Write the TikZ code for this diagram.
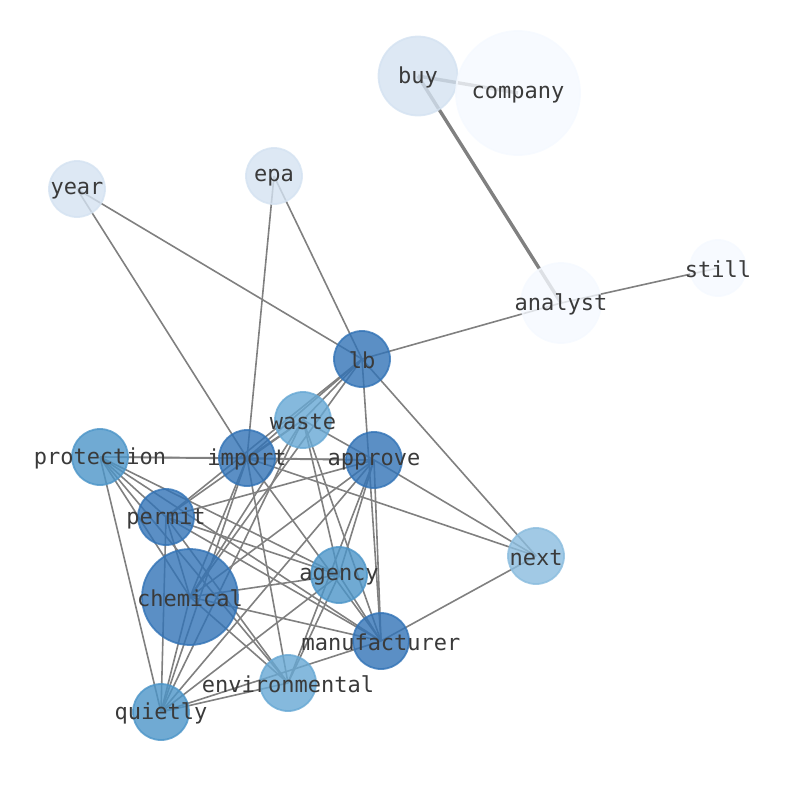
\documentclass[tikz,border=0pt]{standalone}
\usepackage{fontspec}
\newfontfamily\labfont{DejaVu Sans Mono}
\pgfdeclarelayer{bg}
\pgfsetlayers{bg,main}
\definecolor{cA}{RGB}{50,115,182}
\definecolor{cB}{RGB}{76,149,200}
\definecolor{cC}{RGB}{103,168,212}
\definecolor{cD}{RGB}{138,188,222}
\definecolor{cE}{RGB}{212,226,241}
\definecolor{cF}{RGB}{245,249,255}
\definecolor{edgegray}{RGB}{128,128,128}
\definecolor{labgray}{RGB}{58,58,58}
\tikzset{
  vtx/.style={circle, inner sep=0pt, line width=1.8pt, fill opacity=0.8, draw opacity=0.8},
  small/.style={vtx, minimum size=56pt},
  lab/.style={font=\labfont\fontsize{22}{22}\selectfont, text=labgray, inner sep=0pt, yshift=-1.5pt},
  lnk/.style={draw=edgegray, line width=1.6pt},
  thicklnk/.style={draw=edgegray, line width=3.4pt}
}
\begin{document}
\begin{tikzpicture}[x=1pt,y=-1pt]
\useasboundingbox (0,0) rectangle (794,790);
% nodes
\node[vtx, minimum size=79pt, fill=cE, draw=cE] (buy) at (418,76) {};
\node[vtx, minimum size=124pt, fill=cF, draw=cF] (company) at (518,93) {};
\node[small, fill=cE, draw=cE] (year) at (77,189) {};
\node[small, fill=cE, draw=cE] (epa) at (274,176) {};
\node[small, fill=cF, draw=cF] (still) at (718,268) {};
\node[vtx, minimum size=80pt, fill=cF, draw=cF] (analyst) at (561,303) {};
\node[small, fill=cA, draw=cA] (lb) at (362,359) {};
\node[small, fill=cC, draw=cC] (waste) at (303,420) {};
\node[small, fill=cB, draw=cB] (protection) at (100,457) {};
\node[small, fill=cA, draw=cA] (import) at (247,458) {};
\node[small, fill=cA, draw=cA] (approve) at (374,460) {};
\node[small, fill=cA, draw=cA] (permit) at (166,517) {};
\node[small, fill=cD, draw=cD] (next) at (536,556) {};
\node[small, fill=cB, draw=cB] (agency) at (339,575) {};
\node[vtx, minimum size=96pt, fill=cA, draw=cA] (chemical) at (190,597) {};
\node[small, fill=cA, draw=cA] (manufacturer) at (381,641) {};
\node[small, fill=cC, draw=cC] (environmental) at (288,683) {};
\node[small, fill=cB, draw=cB] (quietly) at (161,712) {};
% labels
\foreach \n in {buy,company,year,epa,still,analyst,lb,waste,protection,import,approve,permit,next,agency,chemical,manufacturer,environmental,quietly}
  \node[lab] (t-\n) at (\n.center) {\n};
% edges
\begin{pgfonlayer}{bg}
\path[thicklnk] (buy.center) -- (company.center);
\path[thicklnk] (buy.center) -- (analyst.center);
\foreach \a/\b in {analyst/still, analyst/lb, year/import, year/lb, epa/import, epa/lb,
  lb/next, lb/manufacturer, lb/import, lb/permit, lb/chemical, lb/waste,
  protection/import, protection/approve, protection/agency, protection/manufacturer,
  protection/environmental, protection/chemical, protection/quietly, protection/permit,
  permit/waste, permit/approve, permit/agency, permit/manufacturer, permit/environmental,
  permit/quietly, permit/chemical,
  import/waste, import/approve, import/next, import/chemical, import/manufacturer,
  import/environmental, import/quietly,
  chemical/waste, chemical/approve, chemical/agency, chemical/manufacturer,
  chemical/environmental, chemical/quietly,
  approve/quietly, approve/agency, approve/manufacturer, approve/environmental,
  approve/next, approve/waste,
  agency/manufacturer, agency/environmental, agency/quietly, agency/waste,
  manufacturer/waste, manufacturer/quietly, manufacturer/next,
  environmental/quietly, quietly/waste}
  \path[lnk] (\a.center) -- (\b.center);
\end{pgfonlayer}
\end{tikzpicture}
\end{document}
